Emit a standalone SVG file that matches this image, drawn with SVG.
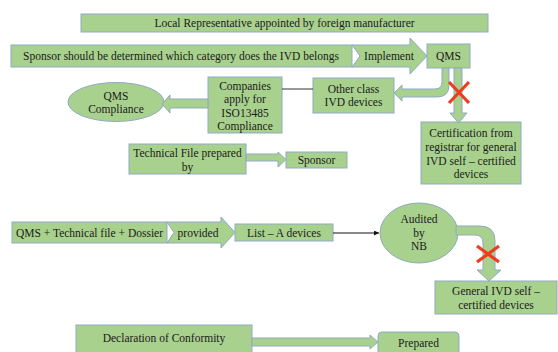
<svg xmlns="http://www.w3.org/2000/svg" width="558" height="352" viewBox="0 0 558 352">
<style>
.b{fill:#a9d18e;stroke:#8fa9c6;stroke-width:1}
.a{fill:#a9d18e;stroke:#8fa9c6;stroke-width:1}
.t{font-family:'Liberation Serif','DejaVu Serif',serif;font-size:11.5px;fill:#1a1a1a;text-anchor:middle}
.x{stroke:#f03c1e;stroke-width:3.2;stroke-linecap:butt}
.l{stroke:#333;stroke-width:1;fill:none}
</style>
<defs>
<marker id="ah" viewBox="0 0 6 6" refX="6" refY="3" markerWidth="5" markerHeight="5" orient="auto"><path d="M0,0 L6,3 L0,6 Z" fill="#111"/></marker>
</defs>
<rect width="558" height="352" fill="#fff"/>
<g id="n-local"><rect class="b" x="81" y="14" width="407" height="18"/><text class="t" x="284.5" y="27">Local Representative appointed by foreign manufacturer</text></g>
<g id="n-sponsor-cat"><rect class="b" x="11" y="45" width="341" height="22"/><text class="t" x="181" y="60">Sponsor should be determined which category does the IVD belongs</text></g>
<g id="n-qms"><rect class="b" x="427" y="44" width="43" height="24"/><text class="t" x="448.5" y="60">QMS</text></g>
<g id="n-other"><rect class="b" x="313" y="78" width="81" height="35"/><text class="t" x="353.5" y="93">Other class</text><text class="t" x="353.5" y="106">IVD devices</text></g>
<g id="n-companies"><rect class="b" x="208" y="77" width="74" height="56"/><text class="t" x="245" y="90">Companies</text><text class="t" x="245" y="103">apply for</text><text class="t" x="245" y="117">ISO13485</text><text class="t" x="245" y="130">Compliance</text></g>
<g id="n-qmscomp"><ellipse class="b" cx="116" cy="102" rx="48" ry="19.5"/><text class="t" x="116" y="100">QMS</text><text class="t" x="116" y="113">Compliance</text></g>
<g id="n-cert"><rect class="b" x="421" y="122" width="100" height="62"/><text class="t" x="471" y="137">Certification from</text><text class="t" x="471" y="151">registrar for general</text><text class="t" x="471" y="165">IVD self – certified</text><text class="t" x="471" y="178">devices</text></g>
<g id="n-techfile"><rect class="b" x="129" y="144" width="117" height="30"/><text class="t" x="187.5" y="157">Technical File prepared</text><text class="t" x="187.5" y="171">by</text></g>
<g id="n-sponsor"><rect class="b" x="286" y="152" width="61" height="16"/><text class="t" x="316.5" y="164">Sponsor</text></g>
<g id="n-dossier"><rect class="b" x="12" y="222" width="155" height="21"/><text class="t" x="89.5" y="236.5">QMS + Technical file + Dossier</text></g>
<g id="n-lista"><rect class="b" x="235" y="224" width="98" height="17"/><text class="t" x="284" y="236.5">List – A devices</text></g>
<g id="n-nb"><ellipse class="b" cx="419" cy="233" rx="39" ry="30"/><text class="t" x="419" y="223">Audited</text><text class="t" x="419" y="237">by</text><text class="t" x="419" y="250">NB</text></g>
<g id="n-general"><rect class="b" x="435" y="281" width="122" height="33"/><text class="t" x="496" y="295">General IVD self –</text><text class="t" x="496" y="309">certified devices</text></g>
<g id="n-decl"><rect class="b" x="76" y="325" width="176" height="32"/><text class="t" x="164" y="342">Declaration of Conformity</text></g>
<g id="n-prepared"><rect class="b" x="378" y="332" width="81" height="26" rx="4"/><text class="t" x="418.5" y="347">Prepared</text></g>
<g id="connectors">
<g id="implement"><path class="a" d="M352,45 L410,45 L410,38 L427,56 L410,74 L410,67 L352,67 L360,56 Z"/><text class="t" x="389" y="60">Implement</text></g>
<g id="provided"><path class="a" d="M167,222 L221,222 L221,217 L235,232.5 L221,248 L221,243 L167,243 L174,232.5 Z"/><text class="t" x="198" y="236.5">provided</text></g>
<path class="a" d="M442,68 L442,82 Q442,89 435,89 L402,89 L402,85 L394,93 L402,101 L402,97 L437,97 Q449,97 449,85 L449,68 Z"/>
<path class="a" d="M454,68 L462,68 L462,113 L467,113 L458.5,123 L450,113 L454,113 Z"/>
<path class="x" d="M449,82 L469,103 M469,82 L449,103"/>
<line class="l" x1="282" y1="89" x2="313" y2="89"/>
<path class="a" d="M208,99 L170,99 L170,95 L162,104 L170,113 L170,108 L208,108 Z"/>
<path class="a" d="M246,154 L278,154 L278,152 L286,159.5 L278,167 L278,161 L246,161 Z"/>
<line x1="333" y1="233" x2="379" y2="233" stroke="#111" stroke-width="1" marker-end="url(#ah)"/>
<path class="a" d="M456,226 L480,226 Q495,226 495,241 L495,270 L501,270 L489,281 L477,270 L483,270 L483,243 Q483,235 475,235 L456,235 Z"/>
<path class="x" d="M477,246 L499,262 M499,246 L477,262"/>
<path class="a" d="M252,338 L370,338 L370,335 L378,342 L370,349 L370,346 L252,346 Z"/>
</g>
</svg>
